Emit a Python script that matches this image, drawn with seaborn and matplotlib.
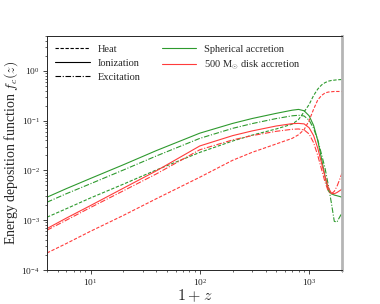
import numpy as np
import pandas as pd
import matplotlib
matplotlib.use("Agg")
import matplotlib.pyplot as plt
from matplotlib.lines import Line2D
import seaborn as sns

# 1+z grid
one_plus_z = [4, 6, 10, 20, 40, 100, 200, 300, 500, 700, 800, 900, 1000,
              1100, 1200, 1300, 1400, 1500, 1600, 1700, 1800, 1900, 2000]

# Spherical accretion (green)
ion_sph = [2.9e-3, 4.3e-3, 6.9e-3, 0.013, 0.025, 0.056, 0.088, 0.11, 0.14, 0.162, 0.168, 0.158, 0.125,
           0.08, 0.04, 0.017, 0.0075, 0.0039, 0.0034, 0.0032, 0.0031, 0.003, 0.0029]
exc_sph = [2.3e-3, 3.4e-3, 5.4e-3, 0.0102, 0.0195, 0.044, 0.07, 0.087, 0.11, 0.125, 0.128, 0.124, 0.102,
           0.07, 0.041, 0.021, 0.011, 0.005, 0.0022, 0.00095, 0.00092, 0.00115, 0.0014]
heat_sph = [1.15e-3, 1.7e-3, 2.8e-3, 5.3e-3, 0.0102, 0.023, 0.039, 0.051, 0.068, 0.085, 0.105, 0.15, 0.21,
            0.32, 0.43, 0.52, 0.58, 0.62, 0.64, 0.65, 0.66, 0.665, 0.67]

# 500 Msun disk accretion (red)
ion_disk = [6.8e-4, 1.1e-3, 1.97e-3, 4.4e-3, 9.8e-3, 0.031, 0.05, 0.062, 0.078, 0.087, 0.088, 0.086, 0.072,
            0.05, 0.028, 0.014, 0.0075, 0.0045, 0.0035, 0.0034, 0.0036, 0.0039, 0.0042]
exc_disk = [6.3e-4, 1.0e-3, 1.8e-3, 3.9e-3, 8.5e-3, 0.026, 0.041, 0.05, 0.061, 0.067, 0.068, 0.065, 0.054,
            0.036, 0.02, 0.0105, 0.0058, 0.0038, 0.0034, 0.0038, 0.0048, 0.0065, 0.0088]
heat_disk = [2.2e-4, 3.4e-4, 6.0e-4, 1.25e-3, 2.7e-3, 7.3e-3, 0.016, 0.023, 0.034, 0.044, 0.052, 0.066, 0.1,
             0.17, 0.26, 0.32, 0.36, 0.375, 0.38, 0.385, 0.385, 0.385, 0.385]

channels = ["Heat", "Ionization", "Excitation"]
models = ["Spherical accretion", r"500 M$_{\odot}$ disk accretion"]

sns.set_style("ticks")
plt.rcParams["font.family"] = ["Liberation Serif", "DejaVu Serif"]
plt.rcParams["mathtext.fontset"] = "cm"

GREEN = "#2e9a2e"
RED = "#ff3b3b"
styles = {"Heat": (0, (3, 1.5)), "Ionization": "-", "Excitation": (0, (5, 1.5, 1, 1.5))}

fig = plt.figure(figsize=(3.8, 3.04), dpi=100)
ax = fig.add_axes([0.1237, 0.1118, 0.7763, 0.7697])

series = [
    ("Heat", GREEN, heat_sph), ("Ionization", GREEN, ion_sph), ("Excitation", GREEN, exc_sph),
    ("Heat", RED, heat_disk), ("Ionization", RED, ion_disk), ("Excitation", RED, exc_disk),
]
for ch, col, vals in series:
    df = pd.DataFrame({"x": one_plus_z, "y": vals})
    sns.lineplot(data=df, x="x", y="y", ax=ax, color=col, linestyle=styles[ch],
                 linewidth=0.8, legend=False, sort=False)

ax.set_xscale("log")
ax.set_yscale("log")
ax.set_xlim(4, 2000)
ax.set_ylim(1e-4, 5)
ax.set_xlabel(r"$1+z$", fontsize=11.5, labelpad=0)
ax.set_ylabel(r"Energy deposition function $f_c(z)$", fontsize=10, labelpad=1)
ax.tick_params(axis="both", which="major", labelsize=6.8, length=3, width=0.6, pad=2)
ax.tick_params(axis="both", which="minor", length=1.6, width=0.5)
for s in ["left", "bottom", "top"]:
    ax.spines[s].set_linewidth(0.7)
ax.spines["right"].set_color("#b5b5b5")
ax.spines["right"].set_linewidth(2)

handles = [Line2D([], [], color="k", lw=0.8, linestyle=styles[c]) for c in channels]
handles += [Line2D([], [], color=GREEN, lw=0.8), Line2D([], [], color=RED, lw=0.8)]
labels = channels + models
ax.legend(handles, labels, loc="upper left", ncol=2, frameon=False, fontsize=7.5,
          handlelength=3.3, handletextpad=0.8, columnspacing=2.0, labelspacing=0.45,
          borderaxespad=0.4)

fig.savefig("out.png", dpi=100)
